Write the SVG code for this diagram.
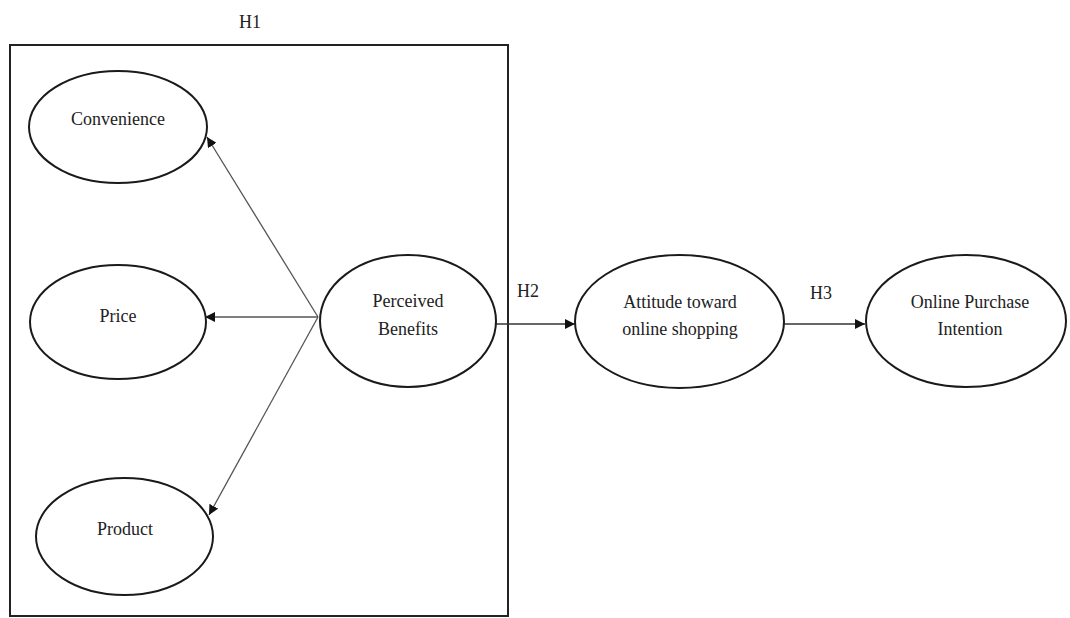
<svg xmlns="http://www.w3.org/2000/svg" width="1070" height="618" viewBox="0 0 1070 618">
<style>
.n{fill:#fff;stroke:#1a1a1a;stroke-width:2}
.t{font-family:"Liberation Serif","Times New Roman",serif;font-size:18px;fill:#222;text-anchor:middle}
.c{stroke:#555;stroke-width:1.3;fill:none}
.b{stroke:#333;stroke-width:1.5;fill:none}
</style>
<defs>
<marker id="ah" viewBox="0 0 10 10" refX="10" refY="5" markerWidth="10" markerHeight="10" markerUnits="userSpaceOnUse" orient="auto">
<path d="M0,0 L10,5 L0,10 z" fill="#111"/>
</marker>
</defs>
<rect fill="#fff" x="0" y="0" width="1070" height="618"/>
<g id="frame">
<rect x="10" y="45" width="498" height="571" fill="none" stroke="#222" stroke-width="2"/>
<text class="t" x="250" y="28">H1</text>
</g>
<g id="connectors">
<line class="c" x1="318" y1="317" x2="207" y2="137" marker-end="url(#ah)"/>
<line class="c" x1="318" y1="317" x2="205" y2="317" marker-end="url(#ah)"/>
<line class="c" x1="318" y1="317" x2="209" y2="515" marker-end="url(#ah)"/>
<line class="b" x1="496" y1="324" x2="575" y2="324" marker-end="url(#ah)"/>
<line class="b" x1="784" y1="324" x2="865" y2="324" marker-end="url(#ah)"/>
<text class="t" x="528" y="297">H2</text>
<text class="t" x="821" y="299">H3</text>
</g>
<g id="convenience">
<ellipse class="n" cx="118" cy="127" rx="89" ry="56"/>
<text class="t" x="118" y="125">Convenience</text>
</g>
<g id="price">
<ellipse class="n" cx="118" cy="322" rx="88" ry="57"/>
<text class="t" x="118" y="322">Price</text>
</g>
<g id="product">
<ellipse class="n" cx="124.5" cy="536.5" rx="88.5" ry="58.5"/>
<text class="t" x="125" y="535">Product</text>
</g>
<g id="perceived-benefits">
<ellipse class="n" cx="408" cy="321" rx="88" ry="66"/>
<text class="t" x="408" y="307">Perceived</text>
<text class="t" x="408" y="335">Benefits</text>
</g>
<g id="attitude">
<ellipse class="n" cx="679.5" cy="321.5" rx="104.5" ry="66.5"/>
<text class="t" x="680" y="308">Attitude toward</text>
<text class="t" x="680" y="335">online shopping</text>
</g>
<g id="intention">
<ellipse class="n" cx="966" cy="321" rx="100" ry="66"/>
<text class="t" x="970" y="308">Online Purchase</text>
<text class="t" x="970" y="335">Intention</text>
</g>
</svg>
